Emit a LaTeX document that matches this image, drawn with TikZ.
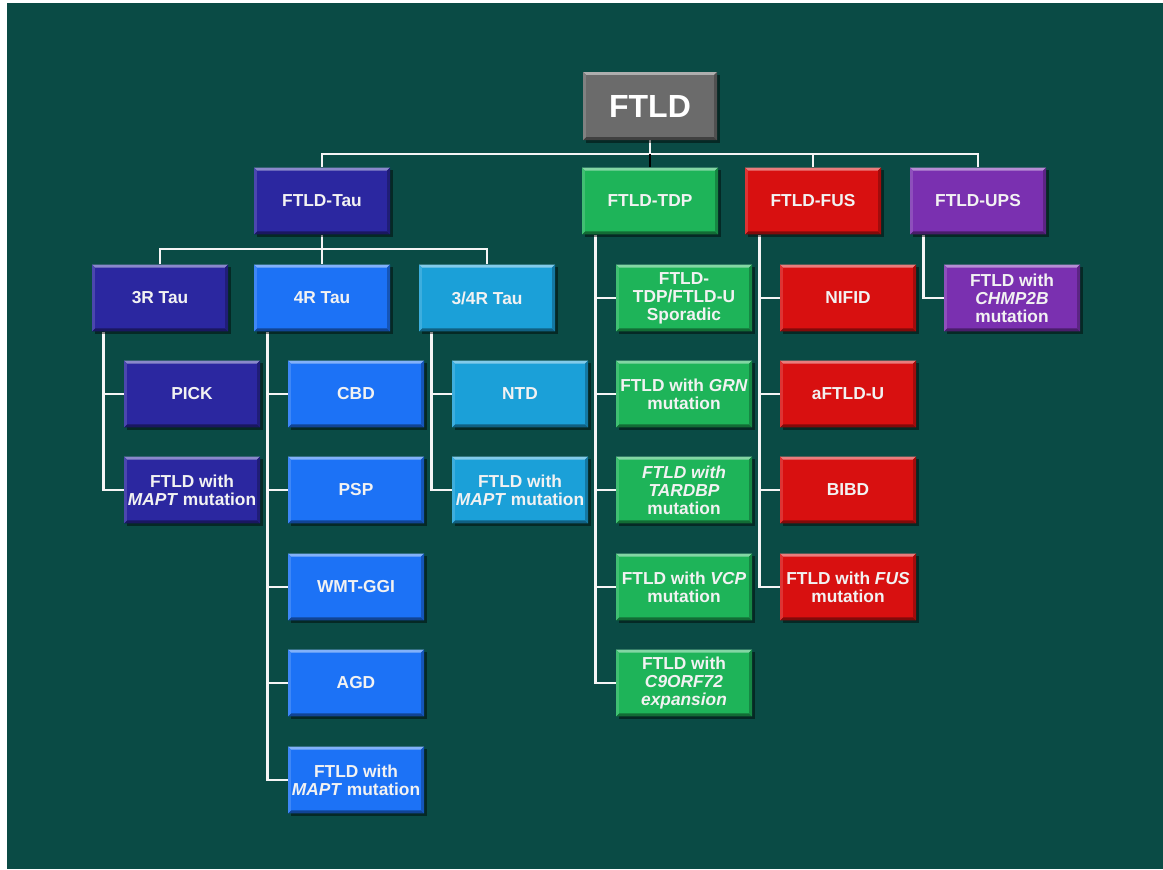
\documentclass[tikz,border=0pt]{standalone}
\usepackage{fontspec}
\setmainfont{Liberation Sans}
\usetikzlibrary{shadows,calc,backgrounds}
\definecolor{bgteal}{HTML}{0A4B45}
\definecolor{cgray}{HTML}{6B6B6B}
\definecolor{ctau}{HTML}{2B27A0}
\definecolor{cblue}{HTML}{1C72F6}
\definecolor{clight}{HTML}{1BA0D8}
\definecolor{cgreen}{HTML}{1EB459}
\definecolor{cred}{HTML}{D81010}
\definecolor{cpurple}{HTML}{7A30B0}
\definecolor{txt}{HTML}{F2F2F2}
\begin{document}
\begin{tikzpicture}[x=0.75pt,y=-0.75pt,
  conn/.style={draw=white!96!black, line width=2.2pt},
  bx/.style={rectangle, fill=#1, minimum width=102pt, minimum height=50pt,
    inner sep=1pt, align=center, text=txt,
    font=\bfseries\fontsize{13}{13.4}\selectfont,
    drop shadow={shadow xshift=2pt,shadow yshift=-2pt,opacity=0.45,fill=black},
    path picture={
      \fill[#1!55!white] (path picture bounding box.north west) -- (path picture bounding box.north east)
        -- ([shift={(-2.2pt,-2.2pt)}]path picture bounding box.north east) -- ([shift={(2.2pt,-2.2pt)}]path picture bounding box.north west) -- cycle;
      \fill[#1!60!black] (path picture bounding box.south west) -- (path picture bounding box.south east)
        -- ([shift={(-2.2pt,2.2pt)}]path picture bounding box.south east) -- ([shift={(2.2pt,2.2pt)}]path picture bounding box.south west) -- cycle;
      \fill[#1!75!black] (path picture bounding box.north east) -- (path picture bounding box.south east)
        -- ([shift={(-2.2pt,2.2pt)}]path picture bounding box.south east) -- ([shift={(-2.2pt,-2.2pt)}]path picture bounding box.north east) -- cycle;
      \fill[#1!85!white] (path picture bounding box.north west) -- (path picture bounding box.south west)
        -- ([shift={(2.2pt,2.2pt)}]path picture bounding box.south west) -- ([shift={(2.2pt,-2.2pt)}]path picture bounding box.north west) -- cycle;
    }},
]
\useasboundingbox (0,0) rectangle (1163,869);

% root
\node[bx=cgray, minimum width=100.5pt, minimum height=51pt, font=\bfseries\fontsize{24}{26}\selectfont, text=white] (ftld) at (650,106) {FTLD};

% level 1
\node[bx=ctau] (tau) at (322,201) {FTLD-Tau};
\node[bx=cgreen] (tdp) at (650,201) {FTLD-TDP};
\node[bx=cred] (fus) at (813,201) {FTLD-FUS};
\node[bx=cpurple] (ups) at (978,201) {FTLD-UPS};

% tau level 2
\node[bx=ctau] (r3) at (160,298) {3R Tau};
\node[bx=cblue] (r4) at (322,298) {4R Tau};
\node[bx=clight] (r34) at (487,298) {3/4R Tau};

% 3R children
\node[bx=ctau] (pick) at (192,394) {PICK};
\node[bx=ctau] (mapt3) at (192,490) {FTLD with\\\textit{MAPT} mutation};

% 4R children
\node[bx=cblue] (cbd) at (356,394) {CBD};
\node[bx=cblue] (psp) at (356,490) {PSP};
\node[bx=cblue] (wmt) at (356,587) {WMT-GGI};
\node[bx=cblue] (agd) at (356,683) {AGD};
\node[bx=cblue] (mapt4) at (356,780) {FTLD with\\\textit{MAPT} mutation};

% 3/4R children
\node[bx=clight] (ntd) at (520,394) {NTD};
\node[bx=clight] (mapt34) at (520,490) {FTLD with\\\textit{MAPT} mutation};

% TDP children
\node[bx=cgreen] (spor) at (684,298) {FTLD-\\TDP/FTLD-U\\Sporadic};
\node[bx=cgreen] (grn) at (684,394) {FTLD with \textit{GRN}\\mutation};
\node[bx=cgreen] (tardbp) at (684,490) {\textit{FTLD with}\\\textit{TARDBP}\\mutation};
\node[bx=cgreen] (vcp) at (684,587) {FTLD with \textit{VCP}\\mutation};
\node[bx=cgreen] (c9) at (684,683) {FTLD with\\\textit{C9ORF72}\\\textit{expansion}};

% FUS children
\node[bx=cred] (nifid) at (848,298) {NIFID};
\node[bx=cred] (aftld) at (848,394) {aFTLD-U};
\node[bx=cred] (bibd) at (848,490) {BIBD};
\node[bx=cred] (fusm) at (848,587) {FTLD with \textit{FUS}\\mutation};

% UPS child
\node[bx=cpurple] (chmp) at (1012,298) {FTLD with\\\textit{CHMP2B}\\mutation};

\coordinate (top) at (0,154);
\coordinate (tmid) at (0,249);
\path (pick.west) ++(-20,0) coordinate (v3);
\path (cbd.west) ++(-20,0) coordinate (v4);
\path (ntd.west) ++(-20,0) coordinate (v34);
\path (grn.west) ++(-20,0) coordinate (vt);
\path (aftld.west) ++(-20,0) coordinate (vf);
\path (chmp.west) ++(-20,0) coordinate (vu);

\begin{scope}[on background layer]
  \fill[white] (0,0) rectangle (1163,869);
  \fill[bgteal] (7,3) rectangle (1163,869);
  % top level
  \draw[conn] (tau.north) -- (tau.north |- top) -- (ups.north |- top) -- (ups.north);
  \draw[conn] (ftld.south) -- (ftld.south |- top);
  \draw[conn] (fus.north) -- (fus.north |- top);
  \draw[black, line width=1.6pt] (tdp.north) -- (tdp.north |- top);
  % tau level
  \draw[conn] (r3.north) -- (r3.north |- tmid) -- (r34.north |- tmid) -- (r34.north);
  \draw[conn] (tau.south) -- (r4.north);
  % 3R
  \draw[conn] (r3.south -| v3) -- (v3 |- mapt3.west) -- (mapt3.west);
  \draw[conn] (pick.west) -- (v3);
  % 4R
  \draw[conn] (r4.south -| v4) -- (v4 |- mapt4.west) -- (mapt4.west);
  \draw[conn] (cbd.west) -- (v4);
  \draw[conn] (psp.west) -- (psp.west -| v4);
  \draw[conn] (wmt.west) -- (wmt.west -| v4);
  \draw[conn] (agd.west) -- (agd.west -| v4);
  % 3/4R
  \draw[conn] (r34.south -| v34) -- (v34 |- mapt34.west) -- (mapt34.west);
  \draw[conn] (ntd.west) -- (v34);
  % TDP
  \draw[conn] (tdp.south -| vt) -- (vt |- c9.west) -- (c9.west);
  \draw[conn] (spor.west) -- (spor.west -| vt);
  \draw[conn] (grn.west) -- (vt);
  \draw[conn] (tardbp.west) -- (tardbp.west -| vt);
  \draw[conn] (vcp.west) -- (vcp.west -| vt);
  % FUS
  \draw[conn] (fus.south -| vf) -- (vf |- fusm.west) -- (fusm.west);
  \draw[conn] (nifid.west) -- (nifid.west -| vf);
  \draw[conn] (aftld.west) -- (vf);
  \draw[conn] (bibd.west) -- (bibd.west -| vf);
  % UPS
  \draw[conn] (ups.south -| vu) -- (vu |- chmp.west) -- (chmp.west);
\end{scope}
\end{tikzpicture}
\end{document}
